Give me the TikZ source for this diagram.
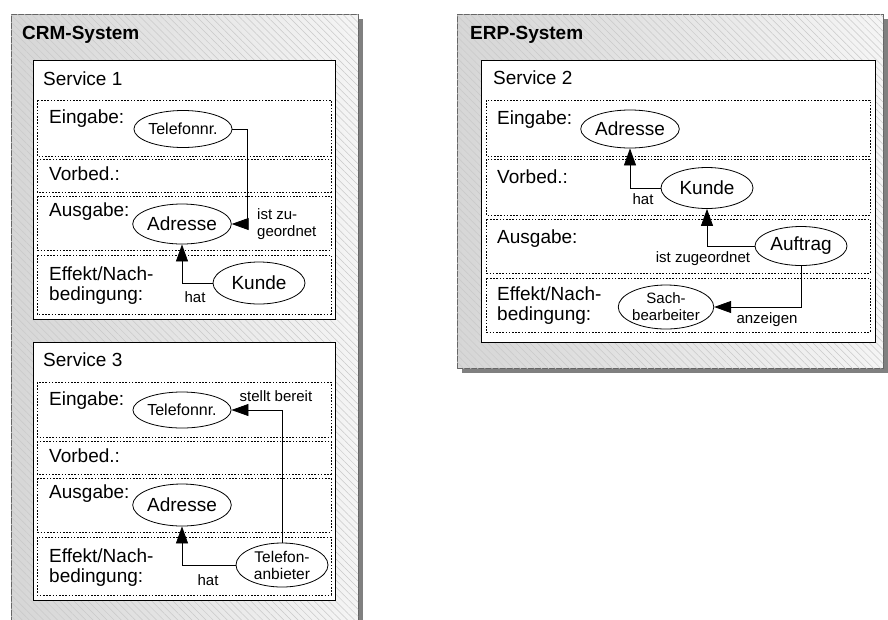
\documentclass[tikz,border=0pt]{standalone}
\usepackage{fontspec}
\setmainfont{Liberation Sans}
\usetikzlibrary{shapes.geometric,arrows.meta,patterns.meta}
\begin{document}
\begin{tikzpicture}[x=1pt,y=-1pt,
  outerbox/.style={draw=black!60,line width=0.8pt,left color=black!16,right color=black!4,
    postaction={pattern={Lines[angle=-45,distance=5pt,line width=0.5pt]},pattern color=black!21}},
  shadowbox/.style={fill=black!50,draw=none},
  servbox/.style={draw=black,line width=0.9pt,fill=white},
  rowbox/.style={draw=black,line width=0.8pt,dash pattern=on 1.6pt off 1.6pt},
  title/.style={font=\bfseries\fontsize{19}{21}\selectfont,inner sep=0pt,anchor=base west},
  lbl/.style={font=\fontsize{19}{20}\selectfont,inner sep=0pt,anchor=base west,align=left},
  small/.style={font=\fontsize{15}{17}\selectfont,inner sep=0pt},
  ell/.style={ellipse,draw=black,line width=0.8pt,inner sep=0pt,minimum width=92pt,minimum height=40pt,
    font=\fontsize{19}{21}\selectfont,align=center},
  ellsm/.style={ell,font=\fontsize{16}{17}\selectfont},
  arr/.style={-{Triangle[length=17pt,width=12pt]},line width=0.8pt}
]
\useasboundingbox (0,0) rectangle (888,619);
\clip (0,0) rectangle (888,619);
\fill[white] (0,0) rectangle (888,619);

% ---------- CRM system ----------
\fill[shadowbox] (16,19) rectangle (363,640);
\draw[outerbox] (11,14) rectangle (358,635);
\node[title] (crm) at (22,39) {CRM-System};

% Service 1
\draw[servbox] (33,60) rectangle (335,319);
\node[lbl] (s1) at (43,85) {Service 1};
\draw[rowbox] (37,100) rectangle (331,156);
\draw[rowbox] (37,159) rectangle (331,192);
\draw[rowbox] (37,196) rectangle (331,250);
\draw[rowbox] (37,255) rectangle (331,314);
\node[lbl] (s1e) at (49,123) {Eingabe:};
\node[lbl] (s1v) at (49,180) {Vorbed.:};
\node[lbl] (s1a) at (49,216) {Ausgabe:};
\node[lbl] (s1n) at (49,300) {Effekt/Nach-\\bedingung:};

\node[ellsm,minimum height=37pt] (tel1) at (183,129) {Telefonnr.};
\node[ell,minimum height=40pt] (adr1) at (182,224) {Adresse};
\node[ell,minimum height=42pt] (kun1) at (259,283) {Kunde};
\coordinate (c1) at (247,129);
\draw[arr] (tel1.east) -- (c1) |- (adr1.east);
\node[small,align=left,anchor=west] (l1) at (257,224) {ist zu-\\geordnet};
\draw[arr] (kun1.west) -| (adr1.south);
\node[small] (l2) at (195,297) {hat};

% Service 3
\draw[servbox] (33,342) rectangle (335,600);
\node[lbl] (s3) at (43,366) {Service 3};
\draw[rowbox] (37,382) rectangle (331,437);
\draw[rowbox] (37,441) rectangle (331,474);
\draw[rowbox] (37,478) rectangle (331,532);
\draw[rowbox] (37,537) rectangle (331,595);
\node[lbl] (s3e) at (49,405) {Eingabe:};
\node[lbl] (s3v) at (49,462) {Vorbed.:};
\node[lbl] (s3a) at (49,498) {Ausgabe:};
\node[lbl] (s3n) at (49,582) {Effekt/Nach-\\bedingung:};

\node[ellsm,minimum height=36pt] (tel3) at (182,410) {Telefonnr.};
\node[ell,minimum height=42pt] (adr3) at (182,505) {Adresse};
\node[ellsm,minimum height=44pt,font=\fontsize{15.5}{17}\selectfont] (tan3) at (282,565) {Telefon-\\anbieter};
\draw[arr] (tan3.north) |- (tel3.east);
\node[small] (l3) at (276,396) {stellt bereit};
\draw[arr] (tan3.west) -| (adr3.south);
\node[small] (l4) at (208,580) {hat};

% ---------- ERP system ----------
\fill[shadowbox] (462,19) rectangle (888,373);
\draw[outerbox] (457,14) rectangle (883,368);
\node[title] (erp) at (470,39) {ERP-System};

% Service 2
\draw[servbox] (481,60) rectangle (875,342);
\node[lbl] (s2) at (493,84) {Service 2};
\draw[rowbox] (486,100) rectangle (870,156);
\draw[rowbox] (486,159) rectangle (870,215);
\draw[rowbox] (486,219) rectangle (870,273);
\draw[rowbox] (486,278) rectangle (870,332);
\node[lbl] (s2e) at (497,124) {Eingabe:};
\node[lbl] (s2v) at (497,183) {Vorbed.:};
\node[lbl] (s2a) at (497,243) {Ausgabe:};
\node[lbl] (s2n) at (497,320) {Effekt/Nach-\\bedingung:};

\node[ell,minimum height=38pt] (adr2) at (630,129) {Adresse};
\node[ell,minimum height=41pt] (kun2) at (707,188) {Kunde};
\node[ell,minimum height=39pt] (auf2) at (801,246) {Auftrag};
\node[ellsm,minimum height=44pt,font=\fontsize{15}{17}\selectfont] (sach2) at (666,307) {Sach-\\bearbeiter};
\draw[arr] (kun2.west) -| (adr2.south);
\node[small] (l5) at (643,199) {hat};
\draw[arr] (auf2.west) -| (kun2.south);
\node[small] (l6) at (703,259) {ist zugeordnet};
\draw[arr] (auf2.south) |- (sach2.east);
\node[small] (l7) at (767,320) {anzeigen};
\end{tikzpicture}
\end{document}
